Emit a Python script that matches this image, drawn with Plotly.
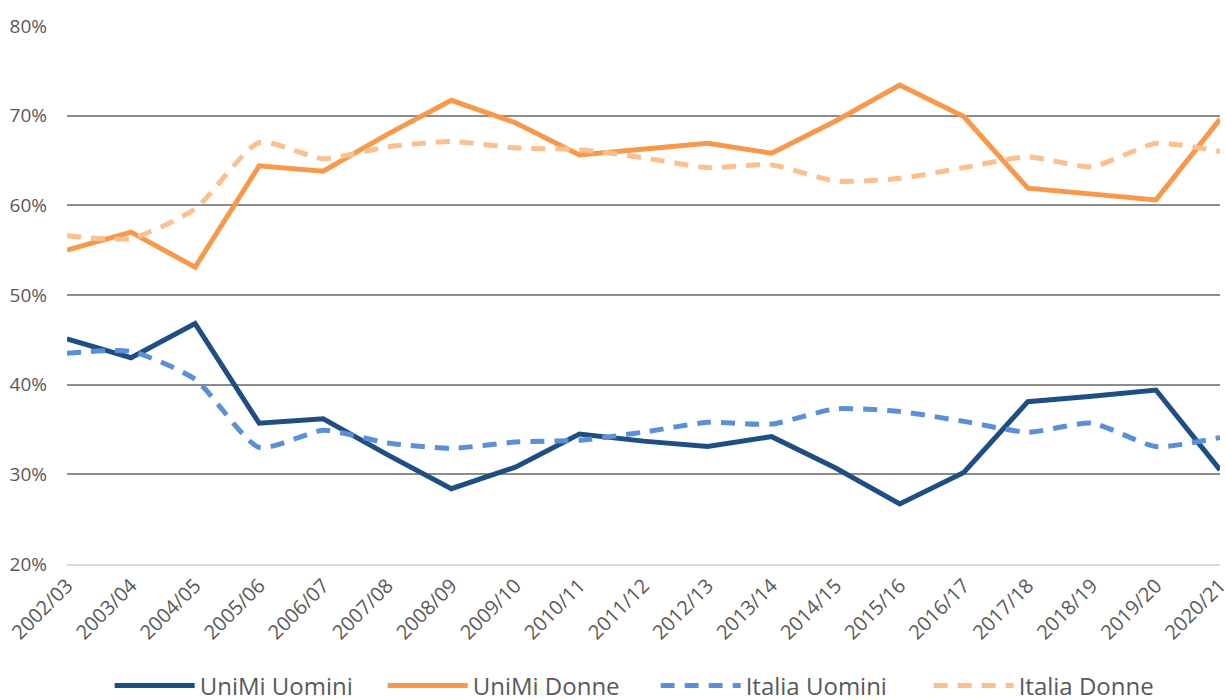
import plotly.graph_objects as go

years = ["2002/03", "2003/04", "2004/05", "2005/06", "2006/07", "2007/08", "2008/09",
         "2009/10", "2010/11", "2011/12", "2012/13", "2013/14", "2014/15", "2015/16",
         "2016/17", "2017/18", "2018/19", "2019/20", "2020/21"]

unimi_uomini = [45.1, 43.0, 46.8, 35.7, 36.2, 32.2, 28.4, 30.8, 34.5, 33.7, 33.1, 34.2,
                30.7, 26.7, 30.2, 38.1, 38.7, 39.4, 30.5]
unimi_donne = [55.0, 57.0, 53.1, 64.4, 63.8, 67.9, 71.7, 69.2, 65.6, 66.3, 66.9, 65.8,
               69.4, 73.4, 69.9, 61.9, 61.3, 60.6, 69.6]
italia_uomini = [43.5, 43.7, 40.6, 33.0, 34.9, 33.5, 32.9, 33.6, 33.8, 34.7, 35.8, 35.6,
                 37.3, 37.0, 35.9, 34.7, 35.7, 33.1, 34.1]
italia_donne = [56.6, 56.3, 59.6, 67.0, 65.2, 66.5, 67.1, 66.4, 66.2, 65.3, 64.2, 64.5,
                62.7, 63.0, 64.2, 65.4, 64.3, 66.9, 66.0]

series = [
    ("UniMi Uomini", unimi_uomini, "#1F4E82", "solid", "linear"),
    ("UniMi Donne", unimi_donne, "#F8984A", "solid", "linear"),
    ("Italia Uomini", italia_uomini, "#5B8FD6", "14px,10px", "spline"),
    ("Italia Donne", italia_donne, "#FBC08F", "14px,10px", "spline"),
]

fig = go.Figure()
for name, vals, color, dash, shape in series:
    line = dict(color=color, width=5, dash=dash, shape=shape)
    if shape == "spline":
        line["smoothing"] = 0.6
    fig.add_trace(go.Scatter(x=years, y=vals, name=name, mode="lines", line=line))

fig.update_layout(
    width=1226, height=700,
    margin=dict(l=67, r=6, t=25, b=136, autoexpand=False),
    paper_bgcolor="white", plot_bgcolor="white",
    font=dict(family="Open Sans, sans-serif", color="#595959"),
    showlegend=True,
    legend=dict(orientation="h", x=0.037, xanchor="left", y=-0.226, yanchor="middle",
                font=dict(size=24, color="#595959"), itemwidth=80, traceorder="normal",
                entrywidth=178, entrywidthmode="pixels"),
)
fig.update_xaxes(
    type="category", range=[0, 18], tickangle=-45, showgrid=False, automargin=False,
    tickfont=dict(size=20, color="#595959"), ticks="", showline=True,
    linecolor="#D9D9D9", linewidth=2,
)
fig.update_yaxes(
    range=[20, 80.1], dtick=10, ticksuffix="%", showgrid=True, gridcolor="#8C8C8C",
    gridwidth=1.5, zeroline=False, tickfont=dict(size=19, color="#595959"),
    ticklabelstandoff=19, automargin=False,
)

fig.write_html("out.html")
